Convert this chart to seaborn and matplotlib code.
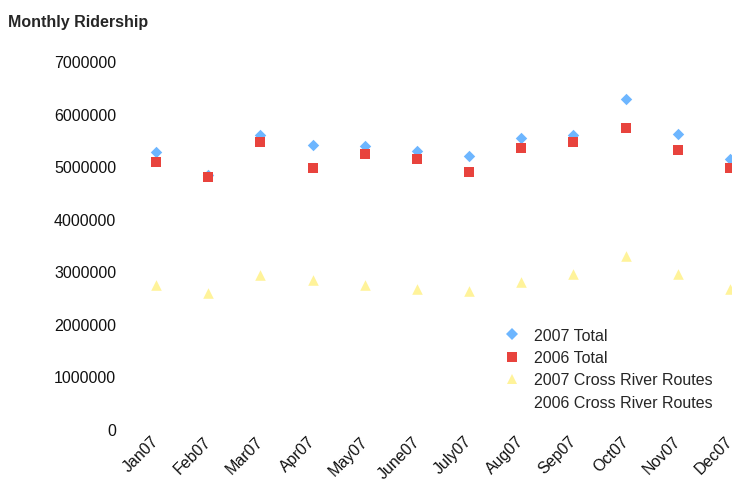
import numpy as np
import pandas as pd
import matplotlib
matplotlib.use("Agg")
import matplotlib.pyplot as plt
import matplotlib.transforms as mtransforms
import seaborn as sns
from matplotlib.lines import Line2D

months = ["Jan07", "Feb07", "Mar07", "Apr07", "May07", "June07", "July07",
          "Aug07", "Sep07", "Oct07", "Nov07", "Dec07"]
total_2007 = [5260000, 4830000, 5600000, 5410000, 5390000, 5290000, 5200000,
              5540000, 5600000, 6270000, 5610000, 5130000]
total_2006 = [5070000, 4800000, 5450000, 4970000, 5230000, 5130000, 4890000,
              5350000, 5460000, 5720000, 5300000, 4970000]
cross_2007 = [2740000, 2580000, 2930000, 2840000, 2740000, 2670000, 2620000,
              2790000, 2940000, 3300000, 2950000, 2660000]
cross_2006 = [np.nan] * 12
series_names = ["2007 Total", "2006 Total", "2007 Cross River Routes", "2006 Cross River Routes"]

sns.set_theme(style="white")
plt.rcParams['font.family'] = ['Liberation Sans', 'DejaVu Sans']

df = pd.DataFrame({
    "Month": months * 4,
    "Riders": total_2007 + total_2006 + cross_2007 + cross_2006,
    "Series": sum([[s] * 12 for s in series_names], []),
})
df["pos"] = np.tile(np.arange(12), 4)

colors = {"2007 Total": "#6DB6FF", "2006 Total": "#E8433D",
          "2007 Cross River Routes": "#FFF39A", "2006 Cross River Routes": "#FFFFFF"}
markers = {"2007 Total": "D", "2006 Total": "s",
           "2007 Cross River Routes": "^", "2006 Cross River Routes": "o"}
sizes = {"2007 Total": 34, "2006 Total": 58, "2007 Cross River Routes": 58,
         "2006 Cross River Routes": 40}

fig = plt.figure(figsize=(7.32, 4.89), dpi=100)
ax = fig.add_axes([130 / 732, 59 / 489, 626 / 732, 368 / 489])

for name in series_names:
    sub = df[df["Series"] == name].dropna()
    if len(sub):
        sns.scatterplot(data=sub, x="pos", y="Riders", ax=ax, color=colors[name],
                        marker=markers[name], s=sizes[name], linewidth=0, legend=False,
                        clip_on=False)

FS = 11.5
ax.set_xlim(-0.5, 11.5)
ax.set_ylim(0, 7000000)
ax.set_yticks(np.arange(0, 7000001, 1000000))
ax.set_yticklabels([f"{int(v)}" for v in np.arange(0, 7000001, 1000000)], fontsize=FS)
ax.set_xticks(np.arange(12))
ax.set_xticklabels(months, rotation=45, ha="right", rotation_mode="anchor", fontsize=FS)
ax.tick_params(axis="both", length=0, colors="#111111")
ax.tick_params(axis="y", pad=10)
ax.tick_params(axis="x", pad=3)
offset = mtransforms.ScaledTranslation(-5 / 100, 0, fig.dpi_scale_trans)
for lbl in ax.get_xticklabels():
    lbl.set_transform(lbl.get_transform() + offset)
for sp in ax.spines.values():
    sp.set_visible(False)
ax.set_xlabel("")
ax.set_ylabel("")

handles = [Line2D([], [], linestyle="none", marker=markers[n], color=colors[n],
                  markersize=ms, markeredgewidth=0)
           for n, ms in zip(series_names, [6, 7.5, 7.5, 0.1])]
leg = ax.legend(handles, series_names, loc="upper left",
                bbox_to_anchor=(496 / 732, 1 - 321 / 489),
                bbox_transform=fig.transFigure, frameon=False, fontsize=FS,
                handlelength=1.0, handletextpad=0.9, labelspacing=0.45, borderpad=0)

fig.text(8 / 732, 1 - 27 / 489, "Monthly Ridership", fontsize=FS, fontweight="bold",
         ha="left", va="baseline")

fig.savefig("out.png", dpi=100)
